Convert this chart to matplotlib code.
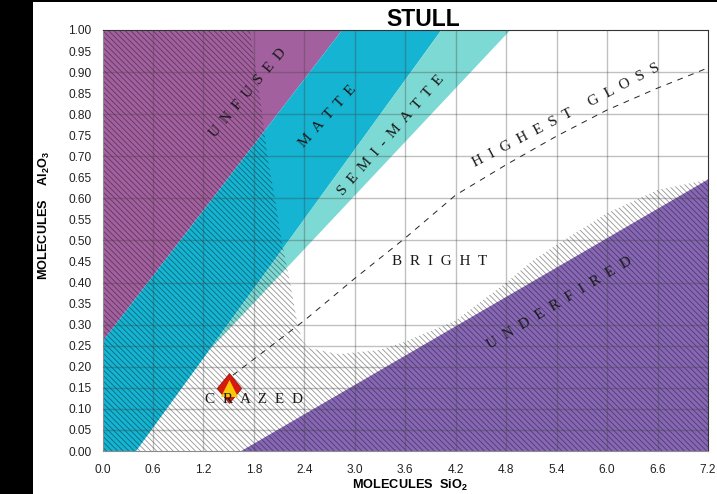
import matplotlib
matplotlib.use("Agg")
import matplotlib.pyplot as plt
from matplotlib.patches import Rectangle

plt.rcParams['font.family'] = ['Liberation Sans', 'DejaVu Sans']
plt.rcParams['mathtext.fontset'] = 'custom'
plt.rcParams['mathtext.bf'] = 'Liberation Sans:bold'
plt.rcParams['hatch.linewidth'] = 0.6

# zone outlines (SiO2, Al2O3)
unfused_x = [0.0, 2.85, 0.0]
unfused_y = [0.26, 1.0, 1.0]
matte_x = [0.0, 0.4, 4.03, 2.85, 0.0]
matte_y = [0.0, 0.0, 1.0, 1.0, 0.26]
semi_x = [1.25, 4.85, 4.03]
semi_y = [0.235, 1.0, 1.0]
under_x = [1.65, 7.2, 7.2]
under_y = [0.0, 0.645, 0.0]

# hatched area: everything below/left of the clear "bright" window
hatch_x = [0.0, 1.75, 1.83, 1.9, 1.96, 2.05, 2.13, 2.23, 2.32, 2.38, 2.45, 2.8, 3.3, 3.6,
           4.2, 4.8, 5.1, 5.4, 6.0, 6.6, 6.85, 7.2, 7.2, 0.0]
hatch_y = [1.0, 1.0, 0.9, 0.8, 0.7, 0.6, 0.5, 0.4, 0.3, 0.26, 0.245, 0.23, 0.24, 0.26,
           0.31, 0.40, 0.45, 0.49, 0.565, 0.62, 0.63, 0.645, 0.0, 0.0]

# dashed limit line
limit_x = [1.55, 2.4, 3.0, 3.6, 4.2, 4.8, 5.4, 6.0, 6.6, 7.2]
limit_y = [0.18, 0.31, 0.41, 0.506, 0.608, 0.68, 0.748, 0.81, 0.862, 0.91]

glaze_x = [1.5]
glaze_y = [0.15]

x_ticks = [0.0, 0.6, 1.2, 1.8, 2.4, 3.0, 3.6, 4.2, 4.8, 5.4, 6.0, 6.6, 7.2]
y_ticks = [i * 0.05 for i in range(21)]
y_grid = [0.05, 0.10, 0.15, 0.20, 0.25, 0.30, 0.40, 0.50, 0.60, 0.70, 0.80, 0.90]

SP = " \u2009"
labels = [
    (SP.join("UNFUSED"), 1.73, 0.85, 50),
    (SP.join("MATTE"), 2.68, 0.795, 48),
    (SP.join("SEMI-MATTE"), 3.43, 0.75, 49),
    ("  ".join("HIGHEST") + "     " + "  ".join("GLOSS"), 5.51, 0.796, 27.6),
    ("  ".join("BRIGHT"), 4.01, 0.449, 0),
    ("  ".join("UNDERFIRED"), 5.43, 0.352, 31),
    ("  ".join("CRAZED"), 1.8, 0.122, 0),
]

diamond = [(-0.82, 0), (0, 1), (0.82, 0), (0, -1), (-0.82, 0)]

fig = plt.figure(figsize=(7.17, 4.94), dpi=100, facecolor='white')
ax = fig.add_axes([102.5 / 717, 43 / 494, 605.5 / 717, 421 / 494])

ax.fill(unfused_x, unfused_y, color='#A3609F', lw=0, zorder=1)
ax.fill(matte_x, matte_y, color='#14B4D2', lw=0, zorder=1)
ax.fill(semi_x, semi_y, color='#7DD9D3', lw=0, zorder=1)
ax.fill(under_x, under_y, color='#8767B5', lw=0, zorder=1)
ax.fill(hatch_x, hatch_y, facecolor='none', edgecolor=(0, 0, 0, 0.42), hatch='\\' * 6, lw=0, zorder=2)

# grid on top of the colour, thin and see through
for x in x_ticks[1:-1]:
    ax.axvline(x, color=(0.25, 0.25, 0.25, 0.33), lw=1, zorder=3)
for y in y_grid:
    ax.axhline(y, color=(0.25, 0.25, 0.25, 0.33), lw=1, zorder=3)

ax.plot(limit_x, limit_y, color='#222222', lw=0.7, dashes=(6, 6), zorder=4)

ax.scatter(glaze_x, glaze_y, marker=diamond, s=460, color='#D81A0C', edgecolor='#8A1208', lw=0.5, zorder=5)
ax.scatter(glaze_x, glaze_y, marker='^', s=150, color='#F8C808', lw=0, zorder=6)

for txt, x, y, rot in labels:
    ax.text(x, y, txt, rotation=rot, rotation_mode='anchor', ha='center', va='center',
            family=['Liberation Serif', 'DejaVu Serif'], fontsize=11, color='#1a1a1a', zorder=7)

ax.set_xlim(0, 7.2)
ax.set_ylim(0, 1)
ax.set_xticks(x_ticks)
ax.set_xticklabels([f"{v:.1f}" for v in x_ticks])
ax.set_yticks(y_ticks)
ax.set_yticklabels([f"{v:.2f}" for v in y_ticks])
ax.tick_params(length=0, labelsize=8.6, colors='#222222')
ax.tick_params(axis='x', pad=9)
ax.tick_params(axis='y', pad=8)

for side in ['left', 'bottom']:
    ax.spines[side].set_color('#8c8c8c')
for side in ['top', 'right']:
    ax.spines[side].set_color('#333333')

fig.text(423 / 717, 1 - 20 / 494, "STULL", ha='center', va='center', fontsize=16.5, fontweight='bold')
fig.text(410 / 717, 1 - 485 / 494, r"MOLECULES  SiO$_{\mathbf{2}}$", ha='center', va='center',
         fontsize=9.2, fontweight='bold')
fig.text(44 / 717, 1 - 215 / 494, r"MOLECULES    Al$_{\mathbf{2}}$O$_{\mathbf{3}}$", ha='center', va='center',
         rotation=90, fontsize=9.2, fontweight='bold')

# black slide border around the picture
fig.add_artist(Rectangle((0, 0), 33 / 717, 1, transform=fig.transFigure, color='black', lw=0))
fig.add_artist(Rectangle((0, 1 - 2 / 494), 1, 2 / 494, transform=fig.transFigure, color='black', lw=0))

fig.savefig("out.png", dpi=100)
